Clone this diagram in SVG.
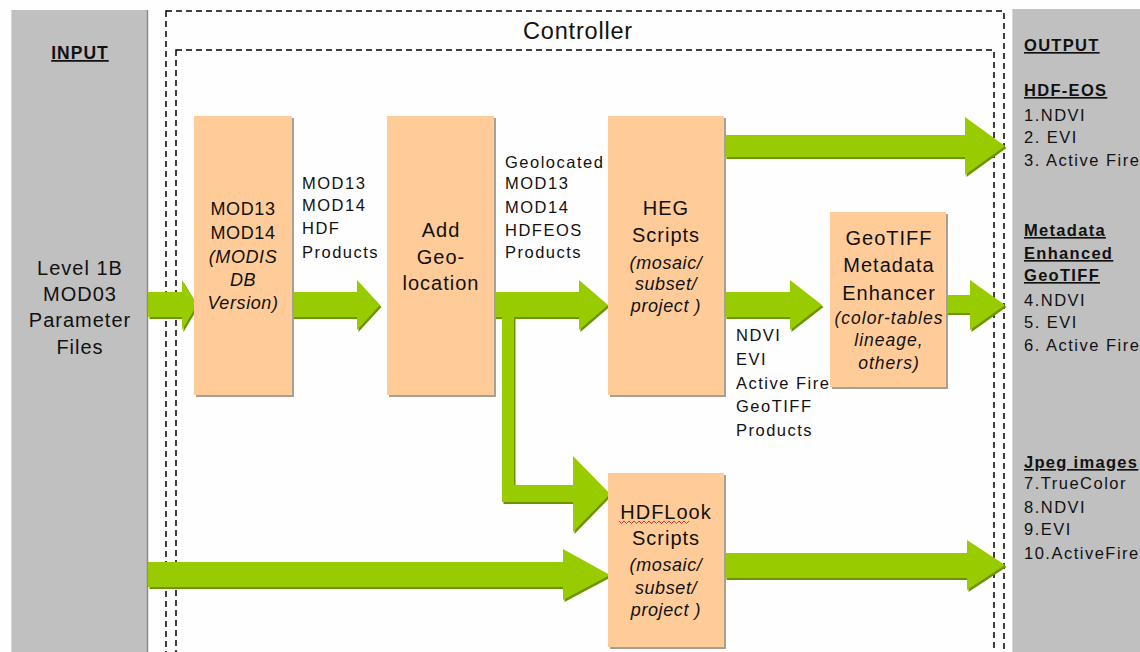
<svg xmlns="http://www.w3.org/2000/svg" width="1140" height="652" viewBox="0 0 1140 652">
<style>
.panel{fill:#c0c0c0}
.box{fill:#ffcc99}
.shadow{fill:#a8a090}
.dash{fill:none;stroke:#000;stroke-width:1.5;stroke-dasharray:6 4}
.arr{fill:#99cc00}
.arrs{fill:#6b9400}
.t{font-family:"Liberation Sans",Arial,sans-serif;fill:#111;letter-spacing:1px}
.big{font-size:20px}
.mid{font-size:18px;letter-spacing:0.6px}
.sm{font-size:16.5px;letter-spacing:1.5px}
.it{font-style:italic}
.bu{font-weight:bold;text-decoration:underline;font-size:16.5px;letter-spacing:1.3px}
.c{text-anchor:middle}
</style>
<rect x="0" y="0" width="1140" height="652" fill="#fefefe"/>
<g id="input">
<rect class="panel" x="11" y="10" width="137" height="650"/>
<line x1="147.5" y1="10" x2="147.5" y2="652" stroke="#8a8a8a" stroke-width="1.5"/>
<line x1="11.5" y1="10" x2="11.5" y2="652" stroke="#d8d8d8" stroke-width="1"/>
<text class="t c" x="80" y="59" font-weight="bold" text-decoration="underline" font-size="17.5">INPUT</text>
<text class="t c big" x="80" y="275">Level 1B</text>
<text class="t c big" x="80" y="301">MOD03</text>
<text class="t c big" x="80" y="327">Parameter</text>
<text class="t c big" x="80" y="354">Files</text>
</g>
<g id="output">
<rect class="panel" x="1012" y="9" width="130" height="650"/>
<line x1="1012.5" y1="9" x2="1012.5" y2="652" stroke="#d8d8d8" stroke-width="1"/>
<text class="t bu" x="1024" y="51">OUTPUT</text>
<text class="t bu" x="1024" y="96">HDF-EOS</text>
<text class="t sm" x="1024" y="121">1.NDVI</text>
<text class="t sm" x="1024" y="143">2. EVI</text>
<text class="t sm" x="1024" y="166">3. Active Fire</text>
<text class="t bu" x="1024" y="236">Metadata</text>
<text class="t bu" x="1024" y="259">Enhanced</text>
<text class="t bu" x="1024" y="281">GeoTIFF</text>
<text class="t sm" x="1024" y="306">4.NDVI</text>
<text class="t sm" x="1024" y="328">5. EVI</text>
<text class="t sm" x="1024" y="351">6. Active Fire</text>
<text class="t bu" x="1024" y="468">Jpeg images</text>
<text class="t sm" x="1024" y="489">7.TrueColor</text>
<text class="t sm" x="1024" y="513">8.NDVI</text>
<text class="t sm" x="1024" y="535">9.EVI</text>
<text class="t sm" x="1024" y="559">10.ActiveFire</text>
</g>
<g id="controller">
<rect class="dash" x="166" y="11" width="838" height="660"/>
<rect class="dash" x="176" y="50" width="818" height="620"/>
<text class="t c" x="578" y="39" font-size="23.5" style="letter-spacing:0.8px">Controller</text>
</g>
<g id="connectors">
<g transform="translate(1.5,2)" class="arrs">
<polygon points="148,292 182,292 182,280 197,305 182,330 182,317 148,317"/>
<polygon points="292,292 357,292 357,280 380,305 357,330 357,317 292,317"/>
<polygon points="494,292 579,292 579,280 608,305 579,330 579,317 494,317"/>
<polygon points="725,135 965,135 965,117 1005,146 965,175 965,157 725,157"/>
<polygon points="725,292 790,292 790,280 822,305 790,330 790,317 725,317"/>
<polygon points="946,295 970,295 970,280 1005,305 970,330 970,313 946,313"/>
<polygon points="502,317 514,317 514,485 573,485 573,456 610,494 573,532 573,502 502,502"/>
<polygon points="148,562 563,562 563,549 610,575 563,600 563,587 148,587"/>
<polygon points="725,553 967,553 967,540 1005,565 967,590 967,578 725,578"/>
</g>
<g class="arr">
<polygon points="148,292 182,292 182,280 197,305 182,330 182,317 148,317"/>
<polygon points="292,292 357,292 357,280 380,305 357,330 357,317 292,317"/>
<polygon points="494,292 579,292 579,280 608,305 579,330 579,317 494,317"/>
<polygon points="725,135 965,135 965,117 1005,146 965,175 965,157 725,157"/>
<polygon points="725,292 790,292 790,280 822,305 790,330 790,317 725,317"/>
<polygon points="946,295 970,295 970,280 1005,305 970,330 970,313 946,313"/>
<polygon points="502,317 514,317 514,485 573,485 573,456 610,494 573,532 573,502 502,502"/>
<polygon points="148,562 563,562 563,549 610,575 563,600 563,587 148,587"/>
<polygon points="725,553 967,553 967,540 1005,565 967,590 967,578 725,578"/>
</g>
<text class="t sm" x="302" y="189">MOD13</text>
<text class="t sm" x="302" y="211">MOD14</text>
<text class="t sm" x="302" y="234">HDF</text>
<text class="t sm" x="302" y="258">Products</text>
<text class="t sm" x="505" y="168">Geolocated</text>
<text class="t sm" x="505" y="189">MOD13</text>
<text class="t sm" x="505" y="213">MOD14</text>
<text class="t sm" x="505" y="236">HDFEOS</text>
<text class="t sm" x="505" y="258">Products</text>
<text class="t sm" x="736" y="341">NDVI</text>
<text class="t sm" x="736" y="365">EVI</text>
<text class="t sm" x="736" y="389">Active Fire</text>
<text class="t sm" x="736" y="412">GeoTIFF</text>
<text class="t sm" x="736" y="436">Products</text>
</g>
<g id="mod">
<rect class="shadow" x="196" y="118" width="98" height="279"/>
<rect class="box" x="194" y="116" width="98" height="279"/>
<text class="t c mid" x="243" y="215">MOD13</text>
<text class="t c mid" x="243" y="239">MOD14</text>
<text class="t c mid it" x="243" y="263">(MODIS</text>
<text class="t c mid it" x="243" y="286">DB</text>
<text class="t c mid it" x="243" y="309">Version)</text>
</g>
<g id="geolocation">
<rect class="shadow" x="389" y="118" width="107" height="279"/>
<rect class="box" x="387" y="116" width="107" height="279"/>
<text class="t c big" x="441" y="237">Add</text>
<text class="t c big" x="441" y="264">Geo-</text>
<text class="t c big" x="441" y="290">location</text>
</g>
<g id="heg">
<rect class="shadow" x="610" y="118" width="116" height="279"/>
<rect class="box" x="608" y="116" width="116" height="279"/>
<text class="t c big" x="666" y="215">HEG</text>
<text class="t c big" x="666" y="242">Scripts</text>
<text class="t c mid it" x="666" y="269">(mosaic/</text>
<text class="t c mid it" x="666" y="290">subset/</text>
<text class="t c mid it" x="666" y="312">project )</text>
</g>
<g id="geotiff">
<rect class="shadow" x="832" y="214" width="116" height="175"/>
<rect class="box" x="830" y="212" width="116" height="175"/>
<text class="t c big" x="889" y="245">GeoTIFF</text>
<text class="t c big" x="889" y="272">Metadata</text>
<text class="t c big" x="889" y="300">Enhancer</text>
<text class="t c it" x="889" y="324" font-size="17.5">(color-tables</text>
<text class="t c it" x="889" y="346" font-size="17.5">lineage,</text>
<text class="t c it" x="889" y="369" font-size="17.5">others)</text>
</g>
<g id="hdflook">
<rect class="shadow" x="610" y="475" width="116" height="174"/>
<rect class="box" x="608" y="473" width="116" height="174"/>
<text class="t c big" x="666" y="519">HDFLook</text>
<path d="M619,521 l2.5,2.5 l2.5,-2.5 l2.5,2.5 l2.5,-2.5 l2.5,2.5 l2.5,-2.5 l2.5,2.5 l2.5,-2.5 l2.5,2.5 l2.5,-2.5 l2.5,2.5 l2.5,-2.5 l2.5,2.5 l2.5,-2.5 l2.5,2.5 l2.5,-2.5 l2.5,2.5 l2.5,-2.5 l2.5,2.5 l2.5,-2.5 l2.5,2.5 l2.5,-2.5 l2.5,2.5 l2.5,-2.5 l2.5,2.5 l2.5,-2.5 l2.5,2.5 l2.5,-2.5" fill="none" stroke="#e03030" stroke-width="1"/>
<text class="t c big" x="666" y="545">Scripts</text>
<text class="t c mid it" x="666" y="571">(mosaic/</text>
<text class="t c mid it" x="666" y="594">subset/</text>
<text class="t c mid it" x="666" y="616">project )</text>
</g>
</svg>
